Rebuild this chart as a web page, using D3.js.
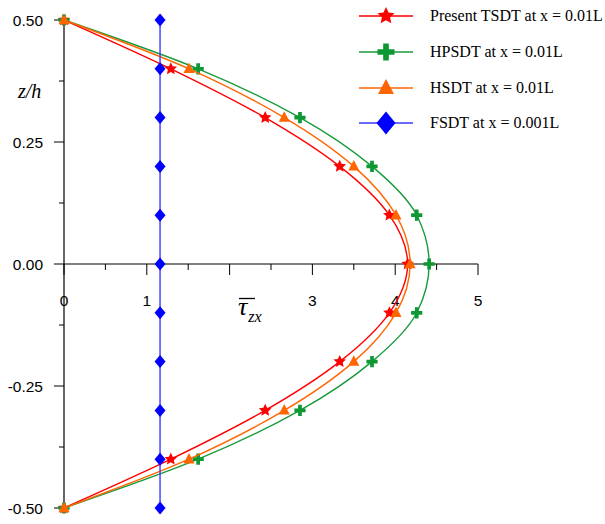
<!DOCTYPE html>
<html>
<head>
<meta charset="utf-8">
<script src="https://cdn.jsdelivr.net/npm/d3@7"></script>
<style>
  html, body { margin: 0; padding: 0; background: #fff; }
  svg { display: block; }
</style>
</head>
<body>
<svg id="chart" width="605" height="524"></svg>
<script>
// Through-thickness positions z/h
const zLevels = [0.5, 0.4, 0.3, 0.2, 0.1, 0, -0.1, -0.2, -0.3, -0.4, -0.5];

// Transverse shear stress values for each theory
const presentTSDT = [0, 1.29, 2.43, 3.33, 3.93, 4.15, 3.93, 3.33, 2.43, 1.29, 0];
const hpsdt       = [0, 1.62, 2.85, 3.72, 4.26, 4.41, 4.26, 3.72, 2.85, 1.62, 0];
const hsdt        = [0, 1.51, 2.66, 3.50, 4.01, 4.18, 4.01, 3.50, 2.66, 1.51, 0];
const fsdt        = [1.16, 1.16, 1.16, 1.16, 1.16, 1.16, 1.16, 1.16, 1.16, 1.16, 1.16];

const seriesNames = ["Present TSDT at x = 0.01L", "HPSDT at x = 0.01L", "HSDT at x = 0.01L", "FSDT at x = 0.001L"];

// Axis ticks
const xTickLabels = [0, 1, 3, 4, 5];
const yTickLabels = [0.5, 0.25, 0, -0.25, -0.5];

const svg = d3.select("#chart");

const x = d3.scaleLinear().domain([0, 5]).range([64, 478]);
const y = d3.scaleLinear().domain([-0.5, 0.5]).range([508, 20]);

// Marker path builders (half-size in px)
function starPath(r) {
  const ri = r * 0.48;
  const pts = [];
  for (let i = 0; i < 10; i++) {
    const a = -Math.PI / 2 + i * Math.PI / 5;
    const rr = i % 2 === 0 ? r : ri;
    pts.push([rr * Math.cos(a), rr * Math.sin(a)]);
  }
  return "M" + pts.map(p => p.join(",")).join("L") + "Z";
}
function crossPath(r) {
  const t = r / 3;
  return `M${-t},${-r}H${t}V${-t}H${r}V${t}H${t}V${r}H${-t}V${t}H${-r}V${-t}H${-t}Z`;
}
function trianglePath(w, h) {
  return `M0,${-h * 0.6}L${w / 2},${h * 0.4}L${-w / 2},${h * 0.4}Z`;
}
function diamondPath(w, h) {
  return `M0,${-h / 2}L${w / 2},0L0,${h / 2}L${-w / 2},0Z`;
}

const series = [
  { name: seriesNames[0], values: presentTSDT, color: "#ff0000", marker: () => starPath(6.6), legendMarker: () => starPath(9) },
  { name: seriesNames[1], values: hpsdt, color: "#0c9833", lineColor: "#1a9a3c", marker: () => crossPath(5.6), legendMarker: () => crossPath(8.5) },
  { name: seriesNames[2], values: hsdt, color: "#ff6600", marker: () => trianglePath(11, 10.5), legendMarker: () => trianglePath(16, 15) },
  { name: seriesNames[3], values: fsdt, color: "#0000ff", lineColor: "#3a3aff", marker: () => diamondPath(11, 13), legendMarker: () => diamondPath(19, 23) }
];

// Axes
const axisColor = "#000";
const xAxisY = y(0);

// y-axis
svg.append("line")
  .attr("x1", x(0)).attr("x2", x(0))
  .attr("y1", y(0.5)).attr("y2", y(-0.5))
  .attr("stroke", axisColor).attr("stroke-width", 1.2);

d3.range(-0.5, 0.5001, 0.125).forEach(v => {
  const major = Math.abs(v * 4 - Math.round(v * 4)) < 1e-6;
  svg.append("line")
    .attr("x1", x(0) - (major ? 10 : 5)).attr("x2", x(0))
    .attr("y1", y(v)).attr("y2", y(v))
    .attr("stroke", axisColor).attr("stroke-width", 1);
});

svg.append("g").selectAll("text")
  .data(yTickLabels)
  .join("text")
  .attr("x", 43)
  .attr("y", d => y(d))
  .attr("dy", "0.36em")
  .attr("text-anchor", "end")
  .attr("font-family", "Liberation Sans, Arial, sans-serif")
  .attr("font-size", 15.5)
  .attr("fill", "#000")
  .text(d => d.toFixed(2));

// x-axis along z = 0
svg.append("line")
  .attr("x1", x(0)).attr("x2", x(5))
  .attr("y1", xAxisY).attr("y2", xAxisY)
  .attr("stroke", axisColor).attr("stroke-width", 1.2);

d3.range(0, 5.001, 0.5).forEach(v => {
  const major = Math.abs(v - Math.round(v)) < 1e-6;
  svg.append("line")
    .attr("x1", x(v)).attr("x2", x(v))
    .attr("y1", xAxisY).attr("y2", xAxisY + (major ? 11 : 6))
    .attr("stroke", axisColor).attr("stroke-width", 1);
});

svg.append("g").selectAll("text")
  .data(xTickLabels)
  .join("text")
  .attr("x", d => x(d))
  .attr("y", 306)
  .attr("text-anchor", "middle")
  .attr("font-family", "Liberation Sans, Arial, sans-serif")
  .attr("font-size", 15.5)
  .attr("fill", "#000")
  .text(d => d);

// Axis titles
svg.append("text")
  .attr("x", 18).attr("y", 98)
  .attr("font-family", "Liberation Serif, Times New Roman, serif")
  .attr("font-style", "italic")
  .attr("font-size", 20)
  .attr("fill", "#000")
  .text("z/h");

const tau = svg.append("text")
  .attr("x", 238).attr("y", 315)
  .attr("font-family", "Liberation Serif, Times New Roman, serif")
  .attr("font-style", "italic")
  .attr("fill", "#000");
tau.append("tspan").attr("font-size", 26).text("τ");
tau.append("tspan").attr("font-size", 16).attr("dy", 7).attr("dx", 1).text("zx");
svg.append("line")
  .attr("x1", 239).attr("x2", 255)
  .attr("y1", 298.5).attr("y2", 298.5)
  .attr("stroke", "#000").attr("stroke-width", 1.3);

// Curves and markers
const line = d3.line()
  .x(d => x(d[0]))
  .y(d => y(d[1]))
  .curve(d3.curveMonotoneY);

series.forEach(s => {
  const pts = s.values.map((v, i) => [v, zLevels[i]]);
  svg.append("path")
    .attr("d", line(pts))
    .attr("fill", "none")
    .attr("stroke", s.lineColor || s.color)
    .attr("stroke-width", 1.4);
  svg.append("g").selectAll("path")
    .data(pts)
    .join("path")
    .attr("transform", d => `translate(${x(d[0])},${y(d[1])})`)
    .attr("d", s.marker())
    .attr("fill", s.color);
});

// Legend
const legend = svg.append("g");
const legendRowY = [16, 52, 88, 123];
series.forEach((s, i) => {
  const ly = legendRowY[i];
  legend.append("line")
    .attr("x1", 359).attr("x2", 413)
    .attr("y1", ly).attr("y2", ly)
    .attr("stroke", s.lineColor || s.color)
    .attr("stroke-width", 1.4);
  legend.append("path")
    .attr("transform", `translate(386,${ly})`)
    .attr("d", s.legendMarker())
    .attr("fill", s.color);
  legend.append("text")
    .attr("x", 430).attr("y", ly)
    .attr("dy", "0.33em")
    .attr("font-family", "Liberation Serif, Times New Roman, serif")
    .attr("font-size", 16)
    .attr("fill", "#000")
    .text(s.name);
});
</script>
</body>
</html>
